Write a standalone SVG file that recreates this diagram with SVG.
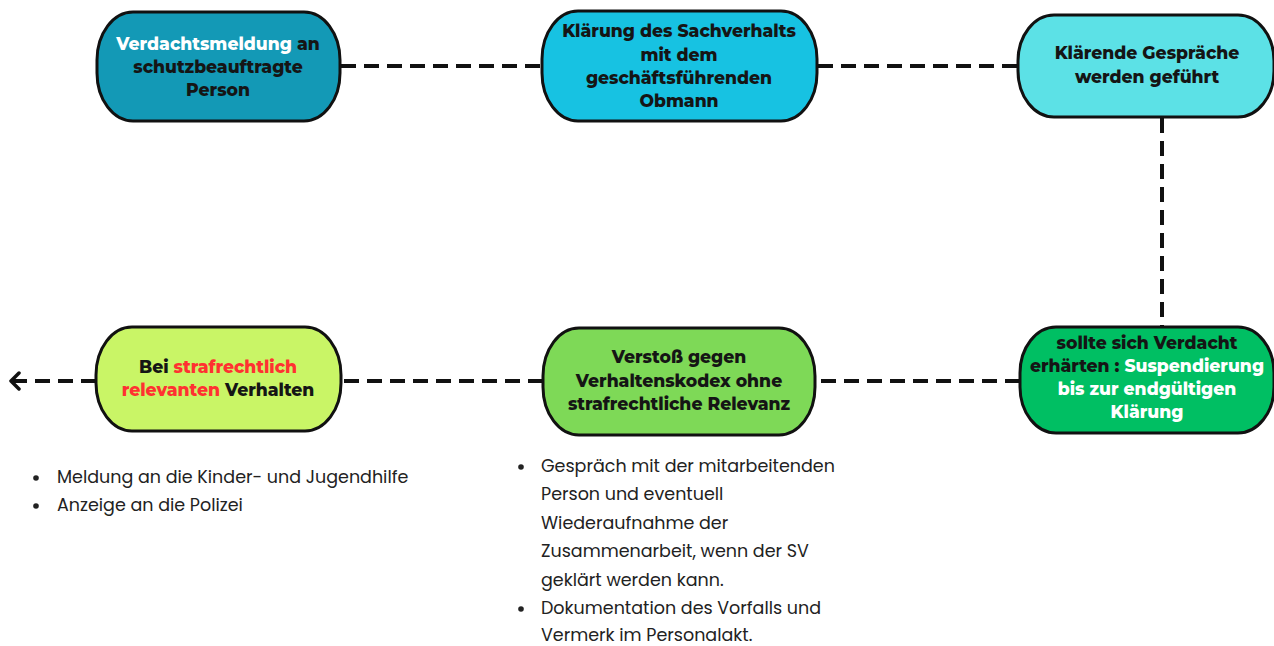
<svg xmlns="http://www.w3.org/2000/svg" width="1274" height="646" viewBox="0 0 1274 646">
<defs>
<style>
.node{stroke:#111;stroke-width:3}
.t{font-family:"Montserrat","Open Sans","Liberation Sans",sans-serif;font-weight:800;font-size:17.2px;fill:#151515;text-anchor:middle}
.w{fill:#ffffff}
.r{fill:#ff3131}
.b{font-family:"Poppins","Open Sans","Liberation Sans",sans-serif;font-size:17.5px;fill:#222}
.c{fill:none;stroke:#111;stroke-width:4;stroke-dasharray:15 8}
</style>
<marker id="arr" viewBox="0 0 12 20" refX="10" refY="10" markerWidth="12" markerHeight="20" markerUnits="userSpaceOnUse" orient="auto">
<path d="M2,2 L10,10 L2,18" fill="none" stroke="#111" stroke-width="3.5" stroke-linecap="round" stroke-linejoin="round"/>
</marker>
</defs>
<rect width="1274" height="646" fill="#fff"/>
<g id="connectors">
<line class="c" x1="341" y1="66" x2="542" y2="66"/>
<line class="c" x1="818" y1="66" x2="1018" y2="66"/>
<line class="c" x1="1162" y1="118" x2="1162" y2="327"/>
<line class="c" x1="1020" y1="381" x2="816" y2="381"/>
<line class="c" x1="543" y1="381" x2="342" y2="381"/>
<line class="c" x1="96" y1="381" x2="11" y2="381" marker-end="url(#arr)"/>
</g>
<g id="n1">
<rect class="node" x="97" y="12" width="243" height="109" rx="36" ry="48" fill="#1399b6"/>
<text class="t" x="218" y="50"><tspan class="w">Verdachtsmeldung</tspan> an</text>
<text class="t" x="218" y="73">schutzbeauftragte</text>
<text class="t" x="218" y="96">Person</text>
</g>
<g id="n2">
<rect class="node" x="542" y="11" width="275" height="110" rx="36" ry="48" fill="#17c2e2"/>
<text class="t" x="679" y="37">Klärung des Sachverhalts</text>
<text class="t" x="679" y="61">mit dem</text>
<text class="t" x="679" y="84">geschäftsführenden</text>
<text class="t" x="679" y="107">Obmann</text>
</g>
<g id="n3">
<rect class="node" x="1018" y="15" width="256" height="102" rx="36" ry="46" fill="#5ce1e6"/>
<text class="t" x="1147" y="59">Klärende Gespräche</text>
<text class="t" x="1147" y="83">werden geführt</text>
</g>
<g id="n4">
<rect class="node" x="1020" y="327" width="254" height="106" rx="36" ry="46" fill="#00bf63"/>
<text class="t" x="1147" y="349">sollte sich Verdacht</text>
<text class="t" x="1147" y="372">erhärten : <tspan class="w">Suspendierung</tspan></text>
<text class="t w" x="1147" y="395">bis zur endgültigen</text>
<text class="t w" x="1147" y="418">Klärung</text>
</g>
<g id="n5">
<rect class="node" x="543" y="328" width="272" height="107" rx="36" ry="48" fill="#7ed957"/>
<text class="t" x="679" y="363">Verstoß gegen</text>
<text class="t" x="679" y="387">Verhaltenskodex ohne</text>
<text class="t" x="679" y="410">strafrechtliche Relevanz</text>
</g>
<g id="n6">
<rect class="node" x="96" y="327" width="245" height="104" rx="36" ry="48" fill="#c9f566"/>
<text class="t" x="218" y="373">Bei <tspan class="r">strafrechtlich</tspan></text>
<text class="t" x="218" y="396"><tspan class="r">relevanten</tspan> Verhalten</text>
</g>
<g id="notes-left">
<circle cx="36" cy="478" r="2.8" fill="#222"/>
<circle cx="36" cy="506" r="2.8" fill="#222"/>
<text class="b" x="57" y="483">Meldung an die Kinder- und Jugendhilfe</text>
<text class="b" x="57" y="511">Anzeige an die Polizei</text>
</g>
<g id="notes-middle">
<circle cx="521" cy="467" r="2.8" fill="#222"/>
<circle cx="521" cy="609" r="2.8" fill="#222"/>
<text class="b" x="541" y="472">Gespräch mit der mitarbeitenden</text>
<text class="b" x="541" y="500">Person und eventuell</text>
<text class="b" x="541" y="529">Wiederaufnahme der</text>
<text class="b" x="541" y="557">Zusammenarbeit, wenn der SV</text>
<text class="b" x="541" y="586">geklärt werden kann.</text>
<text class="b" x="541" y="614">Dokumentation des Vorfalls und</text>
<text class="b" x="541" y="641">Vermerk im Personalakt.</text>
</g>
</svg>
